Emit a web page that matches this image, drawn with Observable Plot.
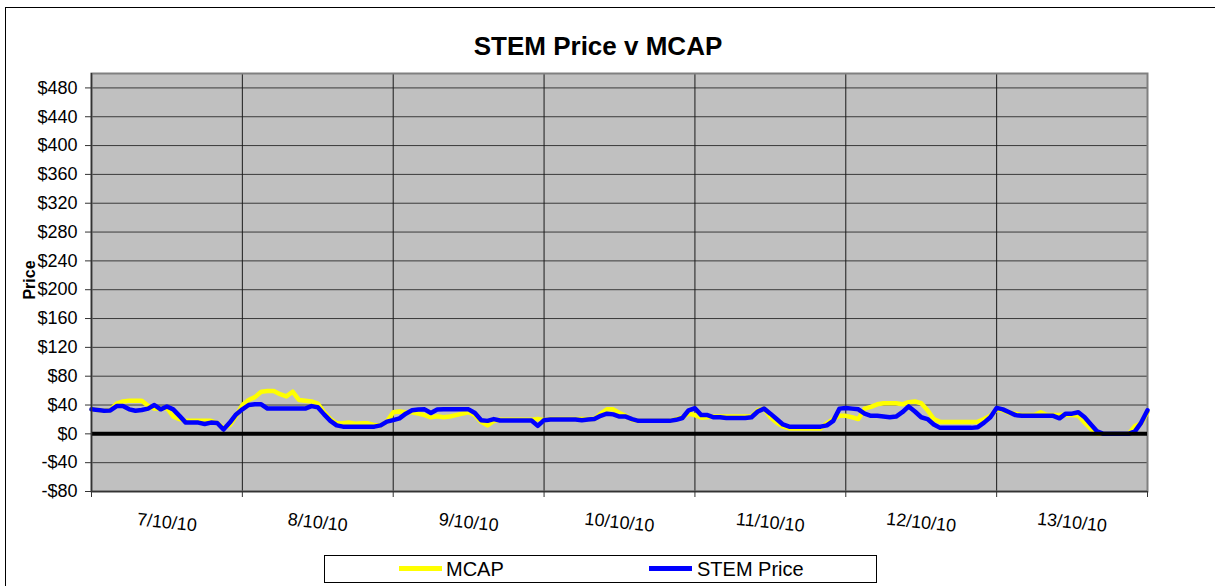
<!DOCTYPE html>
<html>
<head>
<meta charset="utf-8">
<script src="https://cdn.jsdelivr.net/npm/d3@7"></script>
<script src="https://cdn.jsdelivr.net/npm/@observablehq/plot@0.6"></script>
<style>
  body { margin: 0; background: #fff; font-family: "Liberation Sans", Arial, sans-serif; }
  #wrap { position: relative; width: 1215px; height: 586px; overflow: hidden; background: #fff; }
  #border { position: absolute; left: 5px; top: 7px; width: 1400px; height: 800px; border-left: 1px solid #000; border-top: 1px solid #000; }
  #chart { position: absolute; left: 0; top: 0; }
  #title { position: absolute; left: 0; width: 1196px; top: 33px; text-align: center; font-weight: bold; font-size: 26px; line-height: 26px; color: #000; }
  #ylabel { position: absolute; left: -20px; top: 271px; width: 100px; height: 18px; line-height: 18px; text-align: center; font-weight: bold; font-size: 16px; transform: rotate(-90deg); color: #000; }
  #legend { position: absolute; left: 324px; top: 555px; width: 553px; height: 28px; box-sizing: border-box; border: 1px solid #000; background: #fff; }
  .sw { position: absolute; top: 10px; height: 5px; }
  .lt { position: absolute; top: 2px; font-size: 20px; line-height: 22px; color: #000; }
</style>
</head>
<body>
<div id="wrap">
  <div id="border"></div>
  <div id="chart"></div>
  <div id="title"></div>
  <div id="ylabel"></div>
  <div id="legend"></div>
</div>
<script>
// ---- data ----
const chartTitle = "STEM Price v MCAP";
const yAxisLabel = "Price";
const seriesNames = ["MCAP", "STEM Price"];
const seriesColors = ["#FFFF00", "#0000FF"];
const dayLabels = ["7/10/10", "8/10/10", "9/10/10", "10/10/10", "11/10/10", "12/10/10", "13/10/10"];
const yTicks = [-80, -40, 0, 40, 80, 120, 160, 200, 240, 280, 320, 360, 400, 440, 480];
const pointsPerDay = 24;

// MCAP (hourly readings, 7/10/10 00:00 .. 14/10/10 00:00)
const mcap = [
  34, 33, 32, 33, 42, 45, 46, 46, 46, 39, 35, 35, 36, 24, 20.5, 18, 18, 18, 18, 18, 15, 8, 12, 25,
  40, 47, 51, 58.5, 59.5, 59.5, 55, 52, 58.5, 47, 46, 45, 42, 30, 20.5, 14.6, 14.6, 15.6, 14, 14.6, 14.6, 12, 12, 17,
  30, 31, 30, 30, 28, 26, 23, 24.4, 23, 24, 26, 28, 30, 26, 16.6, 11.7, 18, 19.5, 19.5, 19.5, 19.5, 19.5, 19.5, 20.5,
  19, 20.5, 20.5, 20.5, 20.5, 20.5, 20.5, 20.5, 20.5, 28, 34, 34, 29, 25, 19.5, 18, 18, 18, 18, 18, 18, 20.5, 23, 28,
  26, 22.5, 23, 24, 24, 24, 24, 24, 24, 24, 32.7, 35, 23, 15.6, 10, 7.5, 7.5, 7.5, 7.5, 7.5, 7.5, 14.6, 20.5, 25,
  25, 23, 20.5, 35, 37.5, 41, 42.5, 42.5, 42.5, 41, 44, 45, 42.5, 32.7, 20.5, 16.6, 16.6, 16.6, 16.6, 16.6, 16.6, 16.6, 20.5, 25,
  34, 32.7, 29, 28, 26, 26, 26, 30, 26, 26, 26, 26, 26, 25, 15.6, 7, 0, 0, 0, 0, 0, 0, 10.7, 14.6,
  30
];
// STEM Price (hourly readings)
const stem = [
  34, 33, 32, 32.5, 38.5, 38.5, 34, 32, 33, 35, 40, 34, 38, 34, 25, 15.6, 15.6, 15.6, 13.7, 15.6, 15, 6, 15.6, 27,
  34, 40, 41, 41, 35, 35, 35, 35, 35, 35, 35, 38.5, 37, 27, 18, 11.7, 10, 10, 10, 10, 10, 10, 11.7, 17,
  19, 21.5, 28, 32.7, 33.7, 34, 29, 33.7, 34, 34, 34, 34, 34, 29, 19, 18, 20.5, 18.5, 18.5, 18.5, 18.5, 18.5, 18.5, 11,
  19, 20, 20, 20, 20, 20, 19, 20, 20.5, 25, 28, 27, 24, 24, 20.5, 18, 18, 18, 18, 18, 18, 19.5, 22, 32.7,
  35.5, 26, 26, 23, 23, 22, 22, 22, 22, 23, 31, 35, 28, 20.5, 13, 10, 10, 10, 10, 10, 10, 11.7, 18, 35,
  36, 35, 34, 28, 25, 25, 24, 23, 24, 30, 38, 31, 23, 20.5, 13, 8.3, 8.3, 8.3, 8.3, 8.3, 8.3, 9.3, 15.6, 23,
  36, 34, 30, 26, 25, 25, 25, 25, 25, 25, 21.5, 28, 28, 30, 23, 13, 3.4, 0, 0, 0, 0, 0, 3.4, 15.6,
  32.7
];

// ---- chart ----
const fmt = d => d < 0 ? `-$${-d}` : `$${d}`;
const dayEdges = d3.range(0, dayLabels.length + 1);

const chart = Plot.plot({
  width: 1215,
  height: 586,
  marginLeft: 91,
  marginRight: 68,
  marginTop: 73,
  marginBottom: 95,
  x: {domain: [0, dayLabels.length], axis: null},
  y: {domain: [-80, 500], axis: null},
  style: {fontFamily: "'Liberation Sans', Arial, sans-serif", background: "transparent", color: "#000"},
  marks: [
    Plot.frame({fill: "#C0C0C0", stroke: null}),
    Plot.ruleY(yTicks, {stroke: "#3a3a3a", strokeWidth: 1}),
    Plot.ruleX(dayEdges, {stroke: "#1a1a1a", strokeWidth: 1}),
    Plot.frame({stroke: "#808080", strokeWidth: 2}),
    Plot.line(mcap, {x: (d, i) => i / pointsPerDay, y: d => d, stroke: seriesColors[0], strokeWidth: 4.5, strokeLinejoin: "round"}),
    Plot.line(stem, {x: (d, i) => i / pointsPerDay, y: d => d, stroke: seriesColors[1], strokeWidth: 4.5, strokeLinejoin: "round"}),
    Plot.ruleY([0], {stroke: "#000", strokeWidth: 4}),
    Plot.ruleX([0], {stroke: "#333", strokeWidth: 1.5}),
    Plot.ruleY([-80], {stroke: "#333", strokeWidth: 1.5}),
    Plot.axisY(yTicks, {tickFormat: fmt, tickSize: 6, tickPadding: 8, fontSize: 18, label: null, stroke: "#333"}),
    Plot.axisX(dayEdges, {tickFormat: () => "", tickSize: 6, label: null, stroke: "#333"}),
    Plot.text(dayLabels, {x: (d, i) => i + 0.5, y: -80, dy: 31, rotate: 6, fontSize: 18, text: d => d, fill: "#000"})
  ]
});
document.getElementById("chart").appendChild(chart);

document.getElementById("title").textContent = chartTitle;
document.getElementById("ylabel").textContent = yAxisLabel;

const legend = document.getElementById("legend");
const legendPos = [[74, 121], [324, 372]];
seriesNames.forEach((name, i) => {
  const sw = document.createElement("div");
  sw.className = "sw";
  sw.style.left = legendPos[i][0] + "px";
  sw.style.width = "43px";
  sw.style.background = seriesColors[i];
  legend.appendChild(sw);
  const t = document.createElement("div");
  t.className = "lt";
  t.style.left = legendPos[i][1] + "px";
  t.textContent = name;
  legend.appendChild(t);
});
</script>
</body>
</html>
